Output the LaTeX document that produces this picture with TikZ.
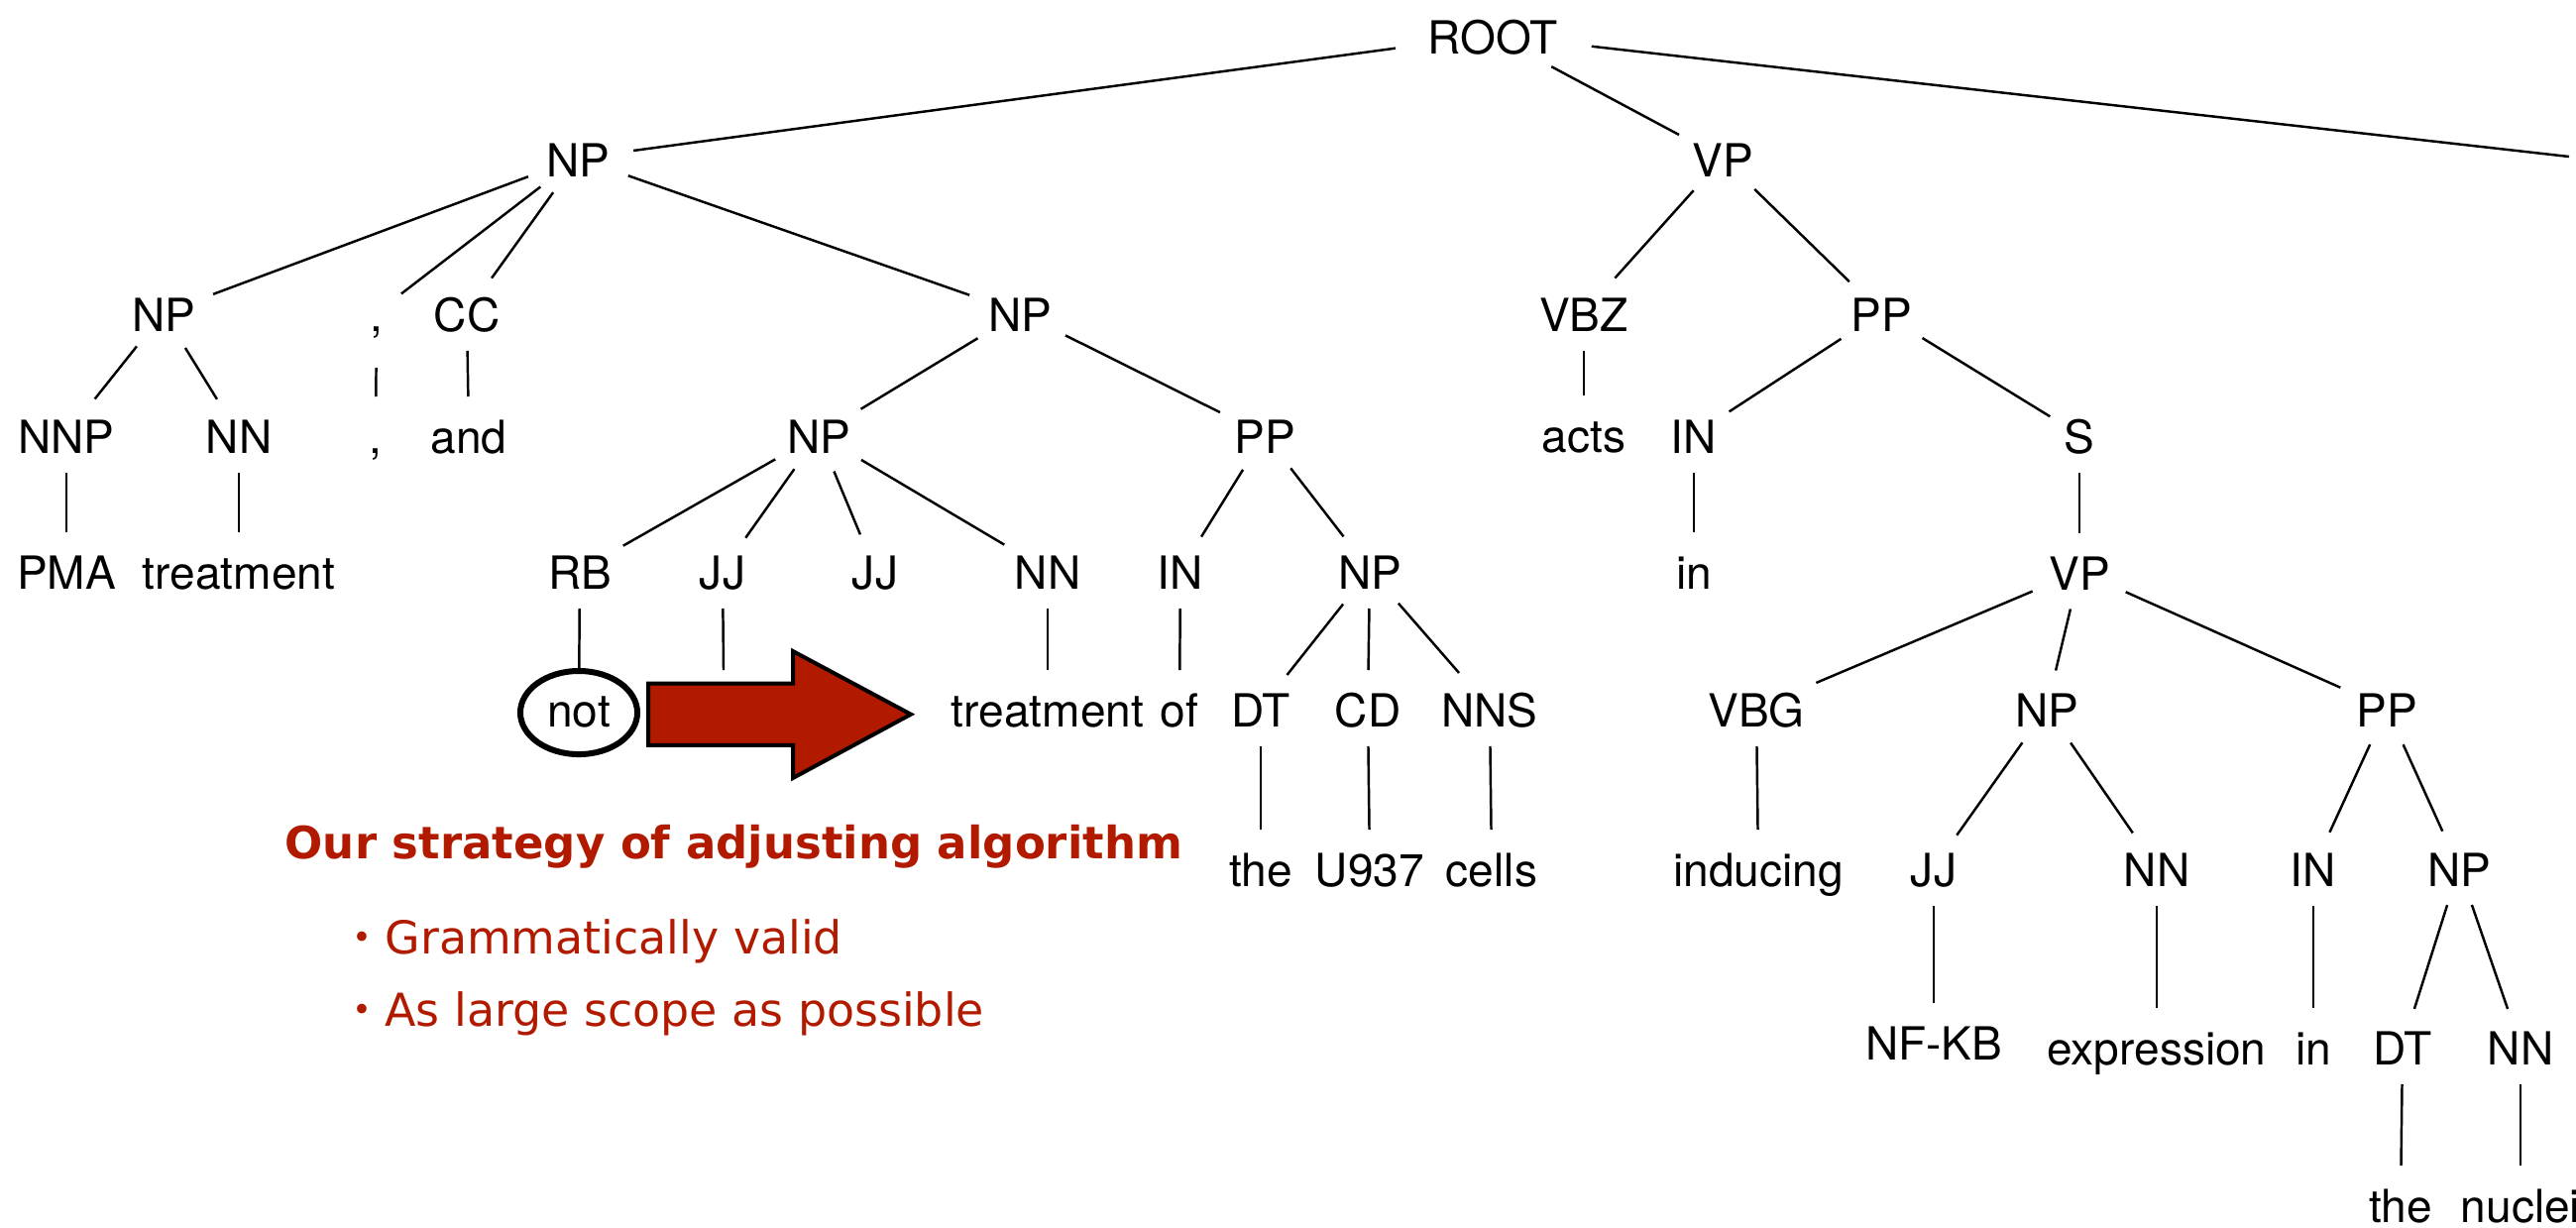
\documentclass[tikz,border=0pt]{standalone}
\usepackage{fontspec}
\setmainfont{TeX Gyre Heros}
\newfontfamily\notefont{DejaVu Sans}
\newfontfamily\dotfont{Noto Sans CJK JP}
\usetikzlibrary{shapes.geometric}
\definecolor{accent}{RGB}{178,26,0}

\tikzset{
  lbl/.style={ellipse, anchor=base, inner xsep=0.085cm, inner ysep=0.057cm,
    outer sep=0pt, text height=0.40cm, text depth=0.03cm,
    font=\fontsize{13.1pt}{15pt}\selectfont},
  wide/.style={minimum width=0.53cm, minimum height=1.11cm},
  branch/.style={line width=0.7pt},
  notetext/.style={anchor=base west, inner sep=0pt, text=accent,
    font=\fontsize{13.05pt}{15pt}\notefont\selectfont},
  notehead/.style={notetext,
    font=\fontsize{12.8pt}{15pt}\notefont\bfseries\selectfont},
}

\begin{document}
\begin{tikzpicture}[x=0.01cm, y=-0.01cm]
\useasboundingbox (0,0) rectangle (2599,1238);
\clip (0,0) rectangle (2599,1238);

% level 0-1
\node[lbl] (root) at (1506,54) {ROOT};
\node[lbl] (np1) at (583,178) {NP};
\node[lbl] (vp1) at (1738,178) {VP};
\coordinate (rootEnd) at (2592,158);

% level 2
\node[lbl] (np2) at (165,334) {NP};
\node[lbl, wide] (cm1) at (380,334) {,};
\node[lbl] (cc) at (471,334) {CC};
\node[lbl] (np3) at (1029,334) {NP};
\node[lbl] (vbz) at (1598,334) {VBZ};
\node[lbl] (pp1) at (1898,334) {PP};

% level 3
\node[lbl] (nnp) at (67,457) {NNP};
\node[lbl] (nn1) at (241,457) {NN};
\node[lbl] (cm2) at (379,457) {,};
\node[lbl] (wAnd) at (473,457) {and};
\node[lbl] (np4) at (826,457) {NP};
\node[lbl] (pp2) at (1276,457) {PP};
\node[lbl] (wActs) at (1598,456) {acts};
\node[lbl] (in1) at (1709,457) {IN};
\node[lbl] (s1) at (2098,457) {S};

% level 4
\node[lbl] (wPma) at (67,594) {PMA};
\node[lbl] (wTreatA) at (241,594) {treatment};
\node[lbl] (rb) at (585,594) {RB};
\node[lbl] (jj1) at (729,594) {JJ};
\node[lbl] (jj2) at (883,594) {JJ};
\node[lbl] (nn2) at (1057,594) {NN};
\node[lbl] (in2) at (1191,594) {IN};
\node[lbl] (np5) at (1382,594) {NP};
\node[lbl] (wInA) at (1709,594) {in};
\node[lbl] (vp2) at (2098,595) {VP};
\coordinate (jjEnd) at (730,676);

% level 5
\node[lbl, draw, line width=0.06cm, anchor=center, outer sep=0.03cm,
      minimum width=1.18cm, minimum height=0.84cm,
      text height=0.30cm, text depth=0.02cm] (wNot) at (584,719) {not};
\node[lbl] (wTreatB) at (1057,733) {treatment};
\node[lbl] (wOf) at (1190,733) {of};
\node[lbl] (dt1) at (1272,733) {DT};
\node[lbl] (cd) at (1380,733) {CD};
\node[lbl] (nns) at (1503,733) {NNS};
\node[lbl] (vbg) at (1772,733) {VBG};
\node[lbl] (np6) at (2065,733) {NP};
\node[lbl] (pp3) at (2408,733) {PP};

% level 6
\node[lbl] (wTheA) at (1272,894) {the};
\node[lbl] (wU) at (1382,894) {U937};
\node[lbl] (wCells) at (1505,894) {cells};
\node[lbl] (wInducing) at (1774,894) {inducing};
\node[lbl] (jj3) at (1951,894) {JJ};
\node[lbl] (nn3) at (2176,894) {NN};
\node[lbl] (in3) at (2334,894) {IN};
\node[lbl] (np7) at (2481,894) {NP};

% level 7-8
\node[lbl] (wNfkb) at (1951,1069) {NF-KB};
\node[lbl] (wExpr) at (2176,1074) {expression};
\node[lbl] (wInB) at (2334,1074) {in};
\node[lbl] (dt2) at (2424,1074) {DT};
\node[lbl] (nn4) at (2543,1074) {NN};
\node[lbl] (wTheB) at (2422,1233) {the};
\node[lbl] (wNuclei) at (2543,1233) {nuclei};

% tree branches
\foreach \p/\c in {root/np1, root/vp1, root/rootEnd,
    np1/np2, np1/cm1, np1/cc, np1/np3,
    np2/nnp, np2/nn1, nnp/wPma, nn1/wTreatA, cm1/cm2, cc/wAnd,
    np3/np4, np3/pp2, np4/rb, np4/jj1, np4/jj2, np4/nn2,
    rb/wNot, jj1/jjEnd, nn2/wTreatB,
    pp2/in2, pp2/np5, in2/wOf,
    np5/dt1, np5/cd, np5/nns, dt1/wTheA, cd/wU, nns/wCells,
    vp1/vbz, vp1/pp1, vbz/wActs, pp1/in1, pp1/s1, in1/wInA, s1/vp2,
    vp2/vbg, vp2/np6, vp2/pp3, vbg/wInducing,
    np6/jj3, np6/nn3, jj3/wNfkb, nn3/wExpr,
    pp3/in3, pp3/np7, in3/wInB, np7/dt2, np7/nn4,
    dt2/wTheB, nn4/wNuclei}
  \draw[branch] (\p) -- (\c);

% block arrow pointing from the negation cue along its scope
\filldraw[fill=accent, draw=black, line width=0.04cm, miter limit=10]
  (654,689.5) -- (800,689.5) -- (800,657) -- (919,720.7)
  -- (800,785) -- (800,751.8) -- (654,751.8) -- cycle;

% notes
\node[notehead] (noteHead) at (287,866) {Our strategy of adjusting algorithm};
\node[notetext] (noteA) at (342,962) {{\dotfont ・}Grammatically valid};
\node[notetext] (noteB) at (342,1035) {{\dotfont ・}As large scope as possible};
\end{tikzpicture}
\end{document}
